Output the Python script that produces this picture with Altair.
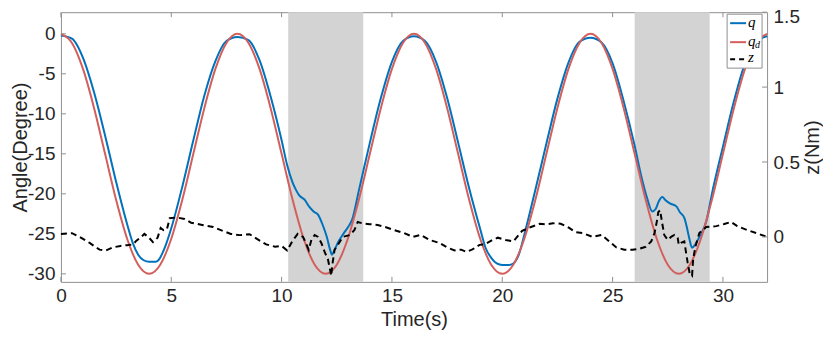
import altair as alt
import pandas as pd

# ---------------- data ----------------
qd_time = [0.0, 0.5, 1.0, 1.5, 2.0, 2.5, 3.0, 3.5, 4.0, 4.5, 5.0, 5.5, 6.0, 6.5, 7.0, 7.5,
           8.0, 8.5, 9.0, 9.5, 10.0, 10.5, 11.0, 11.5, 12.0, 12.5, 13.0, 13.5, 14.0, 14.5, 15.0, 15.5,
           16.0, 16.5, 17.0, 17.5, 18.0, 18.5, 19.0, 19.5, 20.0, 20.5, 21.0, 21.5, 22.0, 22.5, 23.0, 23.5,
           24.0, 24.5, 25.0, 25.5, 26.0, 26.5, 27.0, 27.5, 28.0, 28.5, 29.0, 29.5, 30.0, 30.5, 31.0, 31.5,
           32.0]
qd_vals = [0.0, -1.14, -4.39, -9.26, -15.0, -20.74, -25.61, -28.86, -30.0, -28.86, -25.61, -20.74, -15.0, -9.26, -4.39, -1.14,
           0.0, -1.14, -4.39, -9.26, -15.0, -20.74, -25.61, -28.86, -30.0, -28.86, -25.61, -20.74, -15.0, -9.26, -4.39, -1.14,
           0.0, -1.14, -4.39, -9.26, -15.0, -20.74, -25.61, -28.86, -30.0, -28.86, -25.61, -20.74, -15.0, -9.26, -4.39, -1.14,
           0.0, -1.14, -4.39, -9.26, -15.0, -20.74, -25.61, -28.86, -30.0, -28.86, -25.61, -20.74, -15.0, -9.26, -4.39, -1.14,
           0.0]

q_time = [0.0, 0.5, 1.0, 1.5, 2.0, 2.5, 3.0, 3.25, 3.5, 3.75, 4.0, 4.3, 4.45, 4.6, 4.75, 5.0, 5.5, 6.0, 6.5, 7.0, 7.5,
          8.0, 8.5, 9.0, 9.5, 10.0, 10.25, 10.5, 10.65, 10.8, 11.05, 11.25, 11.45, 11.65, 11.85, 12.05, 12.2, 12.28,
          12.4, 12.55, 12.8, 13.0, 13.2, 13.5, 14.0, 14.5, 15.0, 15.5,
          16.0, 16.5, 17.0, 17.5, 18.0, 18.5, 19.0, 19.25, 19.5, 19.75, 20.0, 20.3, 20.5, 20.75, 21.0, 21.5, 22.0,
          22.5, 23.0, 23.5,
          24.0, 24.5, 25.0, 25.5, 26.0, 26.3, 26.55, 26.8, 26.95, 27.1, 27.25, 27.4, 27.6, 27.9, 28.05, 28.25, 28.35,
          28.47, 28.6, 28.75, 28.93, 29.25, 29.5, 30.0, 30.5, 31.0, 31.5, 32.0]
q_vals = [-0.2, -0.6, -3.0, -7.3, -12.7, -18.5, -23.8, -26.1, -27.6, -28.3, -28.5, -28.5, -28.2, -27.4, -26.4, -24.3, -19.1, -13.3, -7.7, -3.4, -0.9,
          -0.4, -0.8, -3.3, -7.8, -13.3, -16.4, -18.6, -19.5, -20.2, -20.75, -21.6, -22.2, -22.6, -23.8, -25.4, -27.0, -27.6,
          -27.0, -26.1, -25.0, -24.2, -23.2, -19.6, -13.6, -8.0, -3.5, -0.9,
          -0.3, -0.9, -3.5, -8.0, -13.6, -19.3, -24.4, -26.8, -28.0, -28.7, -28.9, -28.9, -28.7, -27.6, -25.1, -19.5, -13.7,
          -8.1, -3.6, -1.0,
          -0.5, -1.1, -3.7, -8.4, -14.0, -17.8, -20.4, -22.2, -21.9, -20.9, -20.4, -20.8, -21.2, -21.6, -22.3, -23.0, -24.0,
          -25.5, -26.75, -26.3, -25.4, -23.4, -20.0, -14.1, -8.4, -3.7, -1.0, -0.3]

z_time = [0.0, 0.5, 0.85, 1.3, 1.75, 2.05, 2.35, 2.7, 3.0, 3.27, 3.42, 3.6, 3.78, 3.98, 4.17, 4.38, 4.52, 4.65, 4.8,
          4.93, 5.25, 5.6, 5.9, 6.4, 6.9, 7.33, 7.7, 8.1, 8.55, 8.9, 9.3, 9.7, 10.0, 10.25, 10.5, 10.73, 10.97,
          11.1, 11.23, 11.35, 11.5, 11.65, 11.8, 11.95, 12.1, 12.17, 12.25, 12.3, 12.4, 12.55, 12.77, 13.1, 13.3,
          13.45, 13.67, 14.0, 14.35, 14.7, 15.1, 15.55, 15.95, 16.3, 16.7, 17.15, 17.5, 17.84, 18.14, 18.37, 18.65,
          18.97, 19.2, 19.5, 19.8, 20.15, 20.5, 20.9, 21.3, 21.7, 22.0, 22.3, 22.65, 23.0, 23.3, 23.63, 24.1, 24.5,
          24.85, 25.17, 25.53, 25.9, 26.2, 26.5, 26.75, 26.9, 27.0, 27.07, 27.15, 27.25, 27.34, 27.5, 27.65, 27.8,
          27.95, 28.0, 28.1, 28.25, 28.33, 28.4, 28.5, 28.6, 28.65, 28.75, 28.93, 29.24, 29.7, 30.06, 30.37, 30.65,
          31.1, 31.5, 32.0]
z_vals = [0.02, 0.025, 0.0, -0.04, -0.085, -0.09, -0.07, -0.06, -0.055, -0.05, -0.025, -0.005, 0.02, -0.003, -0.035, -0.005, 0.06, 0.045, 0.05,
          0.125, 0.13, 0.12, 0.095, 0.08, 0.066, 0.04, 0.02, 0.012, 0.018, -0.015, -0.05, -0.065, -0.06, -0.09, -0.025, 0.02, 0.0,
          -0.04, -0.086, -0.02, 0.013, 0.0, -0.04, -0.1, -0.15, -0.2, -0.26, -0.185, -0.086, -0.053, 0.0, 0.013, 0.046,
          0.1, 0.09, 0.085, 0.08, 0.066, 0.046, 0.026, 0.0, 0.013, -0.02, -0.04, -0.07, -0.09, -0.085, -0.1, -0.083,
          -0.053, -0.05, -0.025, -0.005, -0.02, -0.03, 0.04, 0.066, 0.088, 0.083, 0.091, 0.088, 0.063, 0.033, 0.026, 0.0, 0.013,
          -0.03, -0.07, -0.086, -0.086, -0.08, -0.066, -0.03, 0.026, 0.1, 0.165, 0.178, 0.09, 0.013, -0.02, 0.0, 0.013,
          -0.007, -0.053, -0.04, -0.03, -0.106, -0.17, -0.25, -0.26, -0.15, -0.066, 0.026, 0.066, 0.072, 0.086, 0.1, 0.072,
          0.046, 0.026, 0.0]

shade_start = [10.3, 26.0]
shade_end = [13.7, 29.4]

x_ticks = [0, 5, 10, 15, 20, 25, 30]
left_ticks = [-30, -25, -20, -15, -10, -5, 0]
right_ticks = [0, 0.5, 1, 1.5]

# ---------------- styling ----------------
W, H = 707, 270
BOX = "#8f8f8f"
BLUE = "#0072BD"
RED = "#D35F5C"
FONT = "Liberation Sans"

df_q = pd.DataFrame({"t": q_time, "v": q_vals})
df_qd = pd.DataFrame({"t": qd_time, "v": qd_vals})
df_z = pd.DataFrame({"t": z_time, "z": z_vals})
df_shade = pd.DataFrame({"s": shade_start, "e": shade_end})
df_xt = pd.DataFrame({"t": x_ticks})
df_lt = pd.DataFrame({"v": left_ticks})
df_rt = pd.DataFrame({"z": right_ticks})
one = pd.DataFrame({"k": [0]})

xscale = alt.Scale(domain=[0, 32], nice=False, zero=False)
ylscale = alt.Scale(domain=[-31, 2.7], nice=False, zero=False)
yrscale = alt.Scale(domain=[-0.3, 1.5], nice=False, zero=False)

xaxis = alt.Axis(values=x_ticks, title="Time(s)", labelExpr="'' + datum.value",
                 labelPadding=5, labelFlush=False, titleY=38, titleBaseline="middle")
ylaxis = alt.Axis(values=left_ticks, title="Angle(Degree)", orient="left",
                  labelExpr="'' + datum.value", labelPadding=6, labelFlush=False,
                  titleAngle=270, titleX=-40, titleY=H / 2, titleAlign="center",
                  titleBaseline="middle")
yraxis = alt.Axis(values=right_ticks, title="z(Nm)", orient="right",
                  labelExpr="'' + datum.value", labelPadding=6, labelFlush=False,
                  labelOffset={"condition": {"test": "datum.value == 1.5", "value": 4}, "value": 0},
                  titleAngle=270, titleX=45, titleY=H / 2, titleAlign="center",
                  titleBaseline="middle")

X = alt.X("t:Q", scale=xscale, axis=xaxis)

shade = alt.Chart(df_shade).mark_rect(color="#D3D3D3").encode(
    x=alt.X("s:Q", scale=xscale, axis=xaxis), x2="e:Q")

q_line = alt.Chart(df_q).mark_line(color=BLUE, strokeWidth=2, interpolate="monotone").encode(
    x=X, y=alt.Y("v:Q", scale=ylscale, axis=ylaxis))
qd_line = alt.Chart(df_qd).mark_line(color=RED, strokeWidth=2, interpolate="monotone").encode(
    x=X, y=alt.Y("v:Q", scale=ylscale, axis=ylaxis))

xt_bottom = alt.Chart(df_xt).mark_rule(color=BOX, strokeWidth=1).encode(
    x=X, y=alt.value(H), y2=alt.value(H - 5))
xt_top = alt.Chart(df_xt).mark_rule(color=BOX, strokeWidth=1).encode(
    x=X, y=alt.value(0), y2=alt.value(5))
lt = alt.Chart(df_lt).mark_rule(color=BOX, strokeWidth=1).encode(
    y=alt.Y("v:Q", scale=ylscale, axis=ylaxis), x=alt.value(0), x2=alt.value(5))

left = alt.layer(shade, q_line, qd_line, xt_bottom, xt_top, lt)

z_line = alt.Chart(df_z).mark_line(color="black", strokeWidth=2, strokeDash=[6, 4]).encode(
    x=X, y=alt.Y("z:Q", scale=yrscale, axis=yraxis))
rt = alt.Chart(df_rt).mark_rule(color=BOX, strokeWidth=1).encode(
    y=alt.Y("z:Q", scale=yrscale, axis=yraxis), x=alt.value(W), x2=alt.value(W - 5))

# legend box (upper right, inside the plot)
leg_box = alt.Chart(one).mark_rect(fill="white", stroke=BOX, strokeWidth=1).encode(
    x=alt.value(667), x2=alt.value(702), y=alt.value(2), y2=alt.value(56))
leg_q = alt.Chart(one).mark_rule(color=BLUE, strokeWidth=2).encode(
    x=alt.value(670), x2=alt.value(686), y=alt.value(11))
leg_qd = alt.Chart(one).mark_rule(color=RED, strokeWidth=2).encode(
    x=alt.value(670), x2=alt.value(686), y=alt.value(30))
leg_z = alt.Chart(one).mark_rule(color="black", strokeWidth=2, strokeDash=[5, 4]).encode(
    x=alt.value(670), x2=alt.value(686), y=alt.value(47))
tstyle = dict(font="Liberation Serif", fontStyle="italic", align="left", baseline="middle", color="black")
leg_t1 = alt.Chart(one).mark_text(text="q", fontSize=15, **tstyle).encode(x=alt.value(688), y=alt.value(10))
leg_t2 = alt.Chart(one).mark_text(text="q", fontSize=15, **tstyle).encode(x=alt.value(688), y=alt.value(29))
leg_t2d = alt.Chart(one).mark_text(text="d", fontSize=10, **tstyle).encode(x=alt.value(695), y=alt.value(33))
leg_t3 = alt.Chart(one).mark_text(text="z", fontSize=15, **tstyle).encode(x=alt.value(688), y=alt.value(45))

right = alt.layer(z_line, rt, leg_box, leg_q, leg_qd, leg_z, leg_t1, leg_t2, leg_t2d, leg_t3)

chart = alt.layer(left, right).resolve_scale(y="independent").properties(
    width=W, height=H,
    autosize=alt.AutoSizeParams(type="none"),
    padding={"left": 53, "top": 4, "right": 56, "bottom": 50},
).configure_view(stroke=BOX, strokeWidth=1).configure_axis(
    grid=False, domain=False, ticks=False, tickSize=0,
    labelFont=FONT, labelFontSize=19, labelColor="#262626",
    titleFont=FONT, titleFontSize=20, titleFontWeight="normal", titleColor="#262626",
)

chart.save("out.html", embed_options={"renderer": "svg", "actions": False})
